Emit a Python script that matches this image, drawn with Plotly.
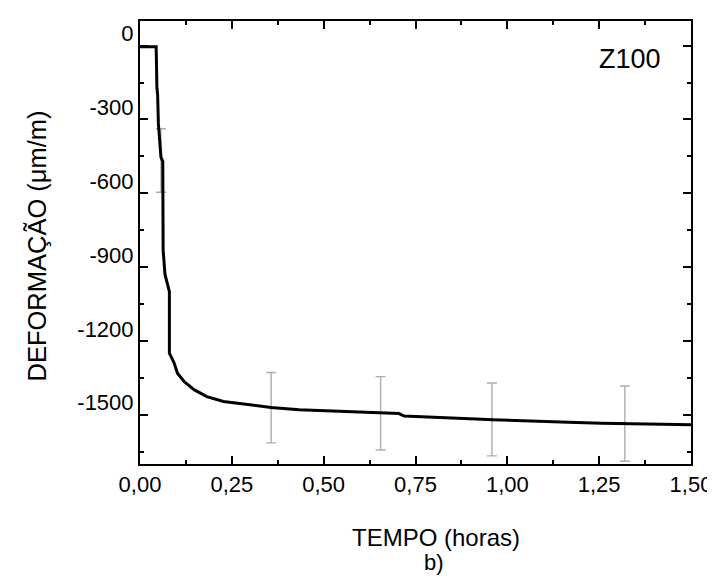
import plotly.graph_objects as go

# strain curve
tempo = [0, 0.044, 0.046, 0.048, 0.050, 0.057, 0.062, 0.063, 0.068, 0.080, 0.080,
         0.093, 0.102, 0.120, 0.147, 0.182, 0.227, 0.290, 0.357, 0.433, 0.496,
         0.560, 0.650, 0.705, 0.719, 0.826, 0.898, 0.961, 1.077, 1.166, 1.256,
         1.372, 1.500]
deformacao = [-5, -5, -170, -200, -316, -453, -470, -831, -930, -1000, -1250,
              -1290, -1331, -1365, -1398, -1426, -1446, -1459, -1470, -1480, -1484,
              -1488, -1492, -1495, -1505, -1510, -1516, -1520, -1524, -1530, -1534,
              -1538, -1541]

# error bars
err_t = [0.057, 0.357, 0.655, 0.958, 1.320]
err_y = [-467, -1471, -1494, -1519, -1536]
err_val = [129, 143, 149, 148, 153]

y_ticks = [0, -300, -600, -900, -1200, -1500]
y_labels = ["0", "-300", "-600", "-900", "-1200", "-1500"]

font = "Liberation Sans, Arial, sans-serif"

# plot area in pixels
W, H = 715, 579
L, R, T, B = 132, 24, 11, 123
pw, ph = W - L - R, H - T - B


def px_note(text, x, y, size, angle=0):
    # annotation placed by pixel position of its centre
    return dict(text=text, x=(x - L) / pw, y=(H - B - y) / ph,
                xref="paper", yref="paper", xanchor="center", yanchor="middle",
                textangle=angle, showarrow=False, font=dict(size=size))


fig = go.Figure()

fig.add_trace(go.Scatter(
    x=err_t, y=err_y, mode="markers",
    marker=dict(size=1, color="rgba(0,0,0,0)"),
    error_y=dict(type="data", array=err_val, visible=True,
                 color="#adadad", thickness=1.4, width=5),
    showlegend=False, hoverinfo="skip"
))

fig.add_trace(go.Scatter(
    x=tempo, y=deformacao, mode="lines",
    line=dict(color="black", width=3),
    showlegend=False
))

fig.update_layout(
    width=W, height=H,
    paper_bgcolor="white", plot_bgcolor="white",
    margin=dict(l=L, r=R, t=T, b=B),
    separators=",.",
    font=dict(family=font, color="black", size=22),
    annotations=[
        dict(text="Z100", x=0.95, y=0.915, xref="paper", yref="paper",
             xanchor="right", yanchor="middle", showarrow=False,
             font=dict(size=27)),
        px_note("TEMPO (horas)", 432, 530, 24),
        px_note("b)", 430, 555, 22),
        px_note("DEFORMAÇÃO (μm/m)", 27, 237, 25.5, angle=-90),
    ],
)

fig.update_xaxes(
    range=[0, 1.5], tickformat=".2f", dtick=0.25, tick0=0,
    showline=True, linecolor="black", linewidth=2, mirror="allticks",
    ticks="inside", ticklen=8, tickwidth=2, tickcolor="black",
    minor=dict(ticks="inside", ticklen=4, tickwidth=2, dtick=0.125, tickcolor="black"),
    showgrid=False, zeroline=False, tickfont=dict(size=22),
)
fig.update_yaxes(
    range=[-1700, 100], tickvals=y_ticks, ticktext=y_labels,
    showline=True, linecolor="black", linewidth=2, mirror="allticks",
    ticks="inside", ticklen=8, tickwidth=2, tickcolor="black",
    minor=dict(ticks="inside", ticklen=4, tickwidth=2, dtick=150, tick0=0, tickcolor="black"),
    showgrid=False, zeroline=False, tickfont=dict(size=22),
    ticklabelshift=-12,
)

fig.write_html("out.html")
